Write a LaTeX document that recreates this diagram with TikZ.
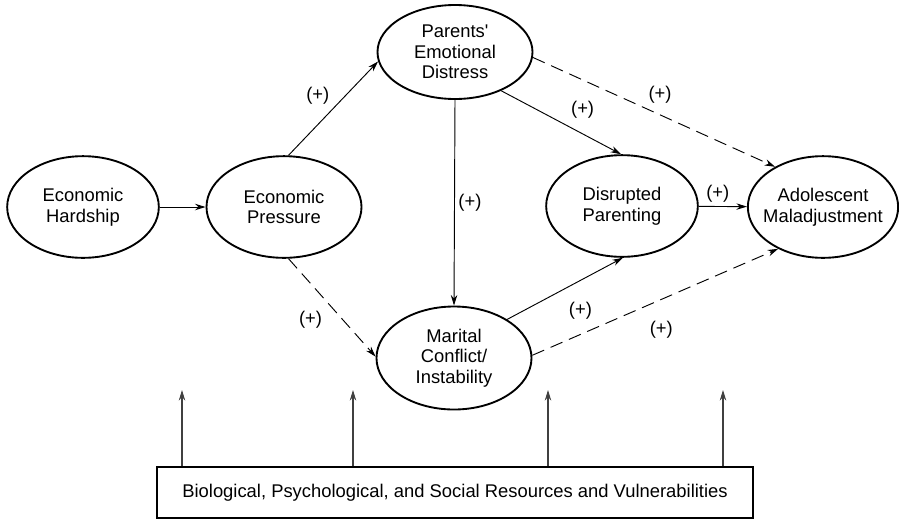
\documentclass[tikz,border=0pt]{standalone}
\usepackage{fontspec}
\setmainfont{Liberation Sans}
\usetikzlibrary{shapes.geometric, arrows.meta}

\begin{document}
\begin{tikzpicture}[
  x=0.03cm, y=-0.03cm,
  every node/.style={font=\fontsize{15.7}{17.7}\selectfont},
  ell/.style={ellipse, draw, line width=1.6pt, align=center, inner xsep=-2mm, inner ysep=0pt, minimum width=4.55cm, minimum height=3.05cm},
  res/.style={rectangle, draw, line width=1.6pt, minimum width=17.88cm, minimum height=1.53cm},
  arr/.style={-{Stealth[length=9pt, width=5.5pt]}, line width=0.8pt},
  dasharr/.style={arr, dash pattern=on 11pt off 6pt},
  uparr/.style={arr, line width=0.9pt, black!75},
  sign/.style={inner sep=3pt},
]
  \useasboundingbox (0,0) rectangle (899,521);

  \node[ell] (hardship) at (83,207) {Economic\\Hardship};
  \node[ell, minimum width=4.65cm] (pressure) at (284,207) {Economic\\Pressure};
  \node[ell, minimum width=4.65cm, minimum height=2.82cm] (parents) at (455,52) {Parents\textquotesingle\\Emotional\\Distress};
  \node[ell] (disrupted) at (622,206) {Disrupted\\Parenting};
  \node[ell, minimum width=4.5cm] (adolescent) at (823,207) {Adolescent\\Maladjustment};
  \node[ell, minimum width=4.65cm, minimum height=3.09cm] (marital) at (454,358) {Marital\\Conflict/\\Instability};

  \node[res] (resources) at (455,492.5) {Biological, Psychological, and Social Resources and Vulnerabilities};

  % paths between the ellipses
  \draw[arr] (hardship) -- (pressure);
  \draw[arr] (pressure.85) -- node[sign, above left]{(+)} (parents.187);
  \draw[dasharr] (pressure.275) -- node[sign, below left, xshift=-0.18cm]{(+)} (marital.179);
  \draw[arr] (parents.south) -- node[sign, right]{(+)} (marital.north);
  \draw[arr] (parents.-40) -- node[sign, above right, xshift=0.18cm]{(+)} (disrupted.91);
  \draw[dasharr] (parents.-4) -- node[sign, above, xshift=0.18cm, yshift=0.15cm]{(+)} (adolescent.140);
  \draw[arr] (disrupted) -- node[sign, above, xshift=-0.15cm]{(+)} (adolescent);
  \draw[arr] (marital.36) -- node[sign, below right, yshift=-0.28cm]{(+)} (disrupted.-89);
  \draw[dasharr] (marital.2) -- node[sign, below, xshift=0.18cm, yshift=-0.45cm]{(+)} (adolescent.223);

  % arrows up from the resources box
  \foreach \x [count=\i] in {182,353,548,723} {
    \coordinate (up\i) at (\x,390);
    \draw[uparr] (up\i |- resources.north) -- (up\i);
  }
\end{tikzpicture}
\end{document}
